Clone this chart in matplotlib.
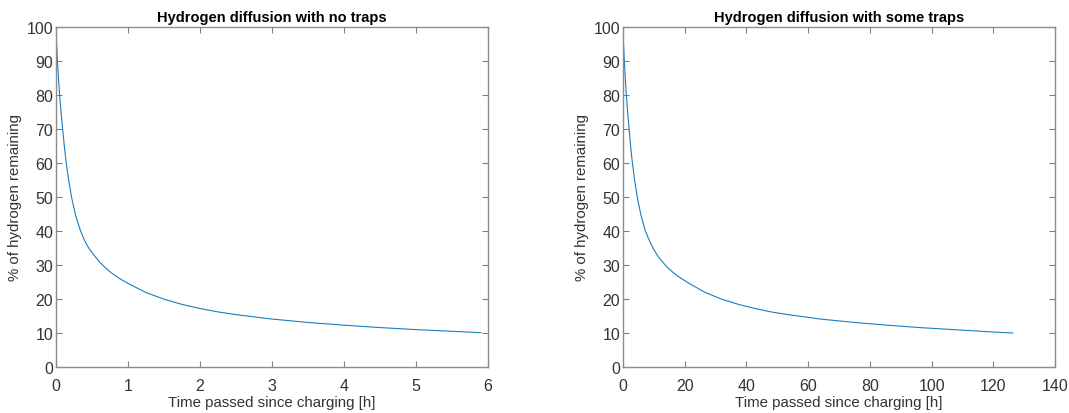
import matplotlib.pyplot as plt

# values
t_notraps = [0, 0.008, 0.02, 0.034, 0.05, 0.07, 0.092, 0.115, 0.142, 0.175, 0.215,
             0.27, 0.30, 0.34, 0.39, 0.45, 0.52, 0.604, 0.68, 0.75, 0.82, 0.9, 1.0, 1.25,
             1.5, 1.75, 2.0, 2.25, 2.5, 3.0, 3.5, 4.0, 4.5, 5.0, 5.5, 5.9]
h_notraps = [100, 95, 90, 85, 80, 75, 70, 65, 60, 55, 50,
             44.8, 42.6, 40.1, 37.5, 35.1, 33.1, 30.9, 29.3, 28.0, 26.9, 25.8, 24.6, 21.9,
             19.95, 18.4, 17.2, 16.2, 15.4, 14.1, 13.1, 12.3, 11.6, 11.0, 10.5, 10.1]

t_traps = [0, 0.17, 0.43, 0.73, 1.07, 1.5, 1.97, 2.46, 3.04, 3.75, 4.6,
           5.78, 6.4, 7.2, 8.3, 9.6, 11.2, 13.0, 14.5, 16, 17.6, 19.3, 21.4, 26.7,
           32, 37.5, 42.8, 48, 53.5, 64, 75, 85.6, 96, 107, 118, 126.3]
h_traps = [100, 95, 90, 85, 80, 75, 70, 65, 60, 55, 50,
           44.8, 42.7, 40.1, 37.7, 35.2, 32.7, 30.7, 29.2, 28.0, 26.8, 25.8, 24.6, 21.9,
           19.95, 18.4, 17.2, 16.2, 15.4, 14.1, 13.1, 12.3, 11.6, 11.0, 10.4, 10.0]

titles = ['Hydrogen diffusion with no traps', 'Hydrogen diffusion with some traps']
xlims = [(0, 6), (0, 140)]
xticks = [range(0, 7), range(0, 141, 20)]

plt.rcParams['font.family'] = ['Liberation Sans', 'DejaVu Sans']

fig = plt.figure(figsize=(10.69, 4.14), dpi=100)
ax1 = fig.add_axes([0.0524, 0.1111, 0.4041, 0.8213])
ax2 = fig.add_axes([0.5828, 0.1111, 0.4041, 0.8213])

for ax, t, h, title, xl, xt in zip([ax1, ax2], [t_notraps, t_traps], [h_notraps, h_traps],
                                   titles, xlims, xticks):
    ax.plot(t, h, color='#1a7dc0', lw=0.8)
    ax.set_xlim(*xl)
    ax.set_ylim(0, 100)
    ax.set_xticks(list(xt))
    ax.set_yticks(range(0, 101, 10))
    ax.set_title(title, fontsize=10.5, fontweight='bold', color='black', pad=4)
    ax.set_xlabel('Time passed since charging [h]', fontsize=10.8, color='#333333')
    ax.set_ylabel('% of hydrogen remaining', fontsize=10.8, color='#333333')
    ax.xaxis.set_label_coords(0.5, -0.083)
    ax.yaxis.set_label_coords(-0.078, 0.5)
    ax.tick_params(direction='in', top=True, right=True, length=4, width=0.8,
                   color='#808080', labelcolor='#333333', labelsize=11.5)
    ax.tick_params(axis='x', pad=8)
    ax.tick_params(axis='y', pad=2)
    for s in ax.spines.values():
        s.set_color('#8c8c8c')
        s.set_linewidth(1.0)

fig.savefig('out.png', dpi=100)
